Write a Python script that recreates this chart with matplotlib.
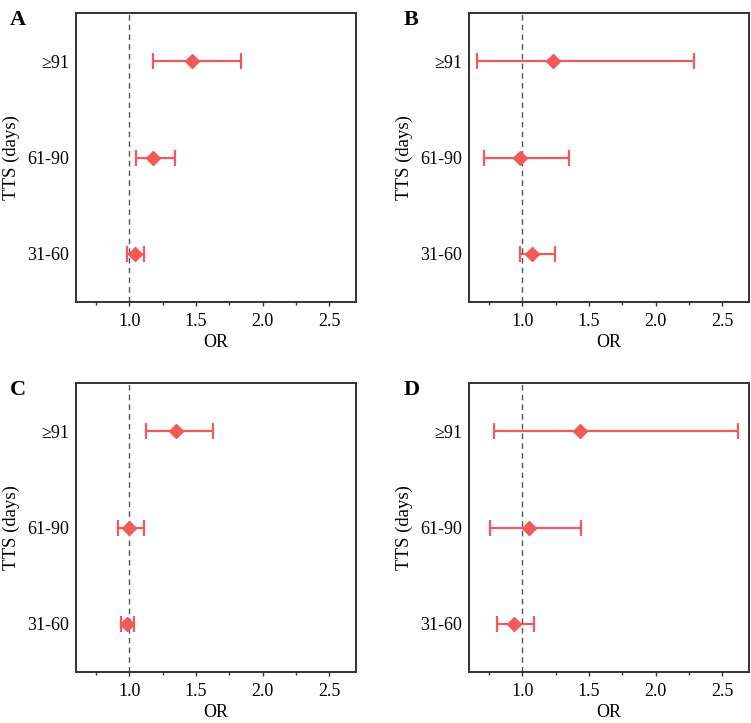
import numpy as np
import matplotlib
matplotlib.use('Agg')
import matplotlib.pyplot as plt
from matplotlib.ticker import MultipleLocator

plt.rcParams['font.family'] = ['Liberation Serif', 'DejaVu Serif']

groups = ['31-60', '61-90', '≥91']
panels = ['A', 'B', 'C', 'D']

# odds ratio with lower / upper CI, ordered as groups
or_a = [1.04, 1.18, 1.467]
lo_a = [0.98, 1.05, 1.175]
hi_a = [1.108, 1.344, 1.84]

or_b = [1.07, 0.98, 1.227]
lo_b = [0.983, 0.716, 0.66]
hi_b = [1.242, 1.349, 2.29]

or_c = [0.98, 1.0, 1.349]
lo_c = [0.938, 0.913, 1.127]
hi_c = [1.032, 1.112, 1.624]

or_d = [0.94, 1.052, 1.429]
lo_d = [0.808, 0.755, 0.785]
hi_d = [1.087, 1.44, 2.62]

data = [(or_a, lo_a, hi_a), (or_b, lo_b, hi_b), (or_c, lo_c, hi_c), (or_d, lo_d, hi_d)]

color = '#F25A5A'

fig = plt.figure(figsize=(7.51, 7.23), dpi=100)
W, H = 751, 723
boxes = [(76, 13), (469, 13), (76, 383), (469, 383)]
aw, ah = 280, 289

for (x0, y0), letter, (ors, los, his) in zip(boxes, panels, data):
    ax = fig.add_axes([x0 / W, 1 - (y0 + ah) / H, aw / W, ah / H])
    y = np.arange(1, len(groups) + 1)
    ors = np.array(ors)
    err = [ors - np.array(los), np.array(his) - ors]
    ax.errorbar(ors, y, xerr=err, fmt='D', color=color, ecolor=color,
                markersize=7.5, elinewidth=1.6, capsize=5.5, capthick=1.6)
    ax.axvline(1.0, color='#555555', linestyle='--', linewidth=1, dashes=(4, 3))

    ax.set_xlim(0.6, 2.7)
    ax.set_ylim(0.5, 3.5)
    ax.set_yticks(y)
    ax.set_yticklabels(groups)
    ax.xaxis.set_minor_locator(MultipleLocator(0.25))
    ax.set_xticks([1.0, 1.5, 2.0, 2.5])
    ax.set_xticklabels(['1.0', '1.5', '2.0', '2.5'])
    ax.tick_params(axis='x', which='major', length=3, width=1, labelsize=13, pad=5, color='#333333')
    ax.tick_params(axis='x', which='minor', length=2.5, width=1, color='#333333')
    ax.tick_params(axis='y', length=0, labelsize=13, pad=5)
    for s in ax.spines.values():
        s.set_linewidth(1.4)
        s.set_color('#333333')

    ax.set_xlabel('OR', fontsize=13, labelpad=3)
    ax.set_ylabel('TTS (days)', fontsize=13.5, labelpad=5)
    ax.text(-0.235, 1.01, letter, transform=ax.transAxes, fontsize=16,
            fontweight='bold', va='top', ha='left')

fig.savefig('out.png', dpi=100)
